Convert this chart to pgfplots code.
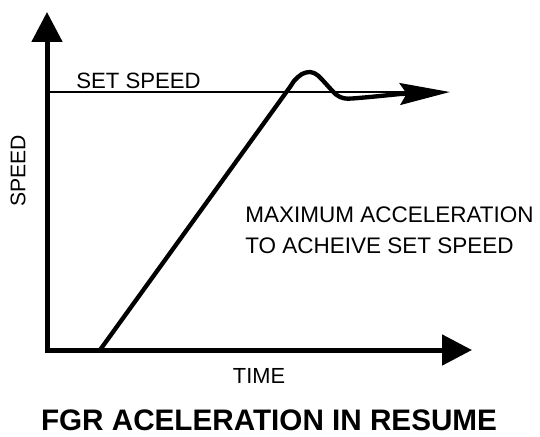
\documentclass[border=0pt]{standalone}
\usepackage{fontspec}
\setmainfont{Liberation Sans}
\usepackage{pgfplots}
\pgfplotsset{compat=1.18}
\usetikzlibrary{arrows.meta}

\begin{document}
\begin{tikzpicture}
% units are pixels of the reference (x right of the speed axis, y above the time axis); 1 px = 0.6pt
\begin{axis}[
    scale only axis, width=255pt, height=202.8pt,
    xmin=0, xmax=425, ymin=0, ymax=338,
    axis lines=left, xtick=\empty, ytick=\empty,
    axis line style={line width=3pt, line cap=rect, -{Triangle[length=18pt,width=18pt]}},
    clip=false,
]
% set speed reference line
\addplot[line width=1pt, black] coordinates {(0,258)(390,258)};
% speed response: ramp, overshoot, settle
\addplot[line width=2.6pt, black, line join=round,
    -{Stealth[length=30pt,width=13pt,inset=4pt]}] coordinates {
  (53,0)(243,263)(247,269)(251,273)(255,276)(259,277.5)(263,278)(267,277)
  (271,274.5)(275,270.5)(280,265)(285,259.5)(289,255.5)(293,253)(297,251.7)
  (301,251.3)(308,251.7)(323,253)(338,254.5)(353,256)(403,258)};
\node[anchor=base west, inner sep=0pt, font=\fontsize{13.3}{16}\selectfont] at (axis cs:29,261) {SET SPEED};
\node[anchor=base west, inner sep=0pt, font=\fontsize{13.5}{16}\selectfont] at (axis cs:198,128) {MAXIMUM ACCELERATION};
\node[anchor=base west, inner sep=0pt, font=\fontsize{13.5}{16}\selectfont] at (axis cs:198,97) {TO ACHEIVE SET SPEED};
\node[font=\fontsize{13.1}{16}\selectfont] at (axis cs:212,-26) {TIME};
\node[rotate=90, font=\fontsize{12.7}{15}\selectfont] at (axis cs:-29,179) {SPEED};
\node[font=\fontsize{17.8}{21}\selectfont\bfseries] at (axis cs:222,-70) {FGR ACELERATION IN RESUME};
% page frame of the reference
\path (axis cs:-47,-82) rectangle (axis cs:493,350);
\end{axis}
\end{tikzpicture}
\end{document}
